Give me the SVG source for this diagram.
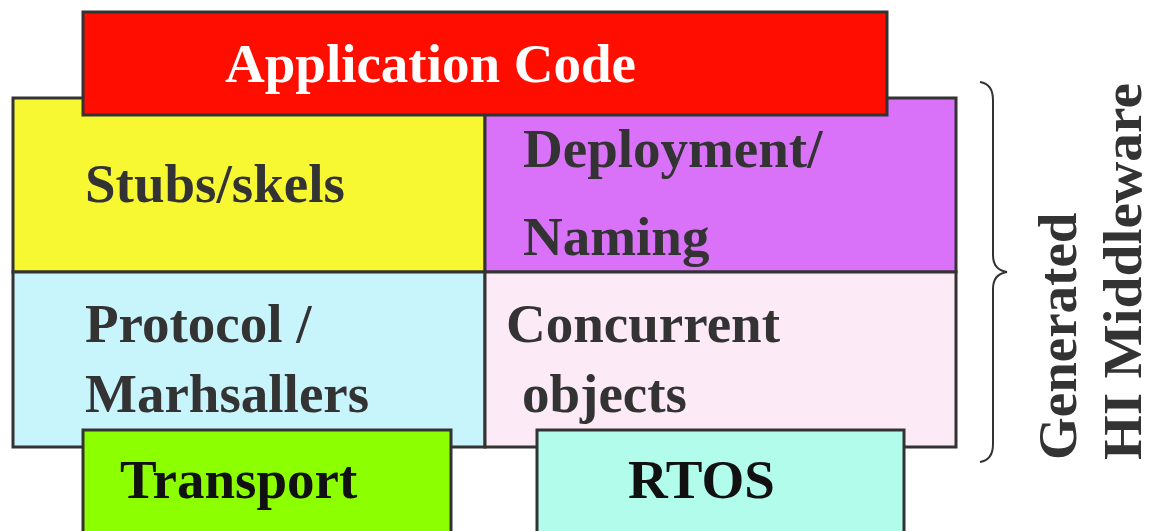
<svg xmlns="http://www.w3.org/2000/svg" width="1155" height="531" viewBox="0 0 1155 531">
  <style>
    .box { stroke: #333; stroke-width: 3; }
    .lbl { font-family: "Liberation Serif", "Times New Roman", serif; font-weight: bold; font-size: 55px; fill: #333; }
    .dark { fill: #111; }
    .white { fill: #fff; }
  </style>
  <rect width="1155" height="531" fill="#fff"/>

  <!-- middleware cells -->
  <g id="stubs">
    <rect class="box" x="13" y="98" width="472" height="174" fill="#f8f832"/>
    <text class="lbl" x="85" y="202">Stubs/skels</text>
  </g>
  <g id="deployment">
    <rect class="box" x="485" y="98" width="471" height="174" fill="#d972f8"/>
    <text class="lbl" x="523" y="167">Deployment/</text>
    <text class="lbl" x="523" y="255">Naming</text>
  </g>
  <g id="protocol">
    <rect class="box" x="13" y="272" width="472" height="175" fill="#c8f4fc"/>
    <text class="lbl" x="85" y="342">Protocol /</text>
    <text class="lbl" x="85" y="412">Marhsallers</text>
  </g>
  <g id="concurrent">
    <rect class="box" x="485" y="272" width="471" height="175" fill="#fcebf6"/>
    <text class="lbl" x="506" y="342">Concurrent</text>
    <text class="lbl" x="522" y="412">objects</text>
  </g>

  <!-- application layer on top -->
  <g id="application">
    <rect class="box" x="83" y="12" width="804" height="103" fill="#ff0e00"/>
    <text class="lbl white" x="225" y="82">Application Code</text>
  </g>

  <!-- lower layers -->
  <g id="transport">
    <rect class="box" x="83" y="430" width="368" height="110" fill="#8cff00"/>
    <text class="lbl dark" x="120" y="498">Transport</text>
  </g>
  <g id="rtos">
    <rect class="box" x="537" y="430" width="367" height="110" fill="#b2fcec"/>
    <text class="lbl dark" x="628" y="498">RTOS</text>
  </g>

  <!-- brace grouping the generated middleware -->
  <g id="connectors">
    <path d="M980 82 Q993 84 993 100 L993 255 Q993 270 1007 272 Q993 274 993 289 L993 444 Q993 460 980 462" fill="none" stroke="#333" stroke-width="2"/>
  </g>
  <g id="brace-label">
    <text class="lbl" transform="translate(1076 460) rotate(-90)">Generated</text>
    <text class="lbl" transform="translate(1141 460) rotate(-90)" textLength="377" lengthAdjust="spacingAndGlyphs">HI Middleware</text>
  </g>
</svg>
